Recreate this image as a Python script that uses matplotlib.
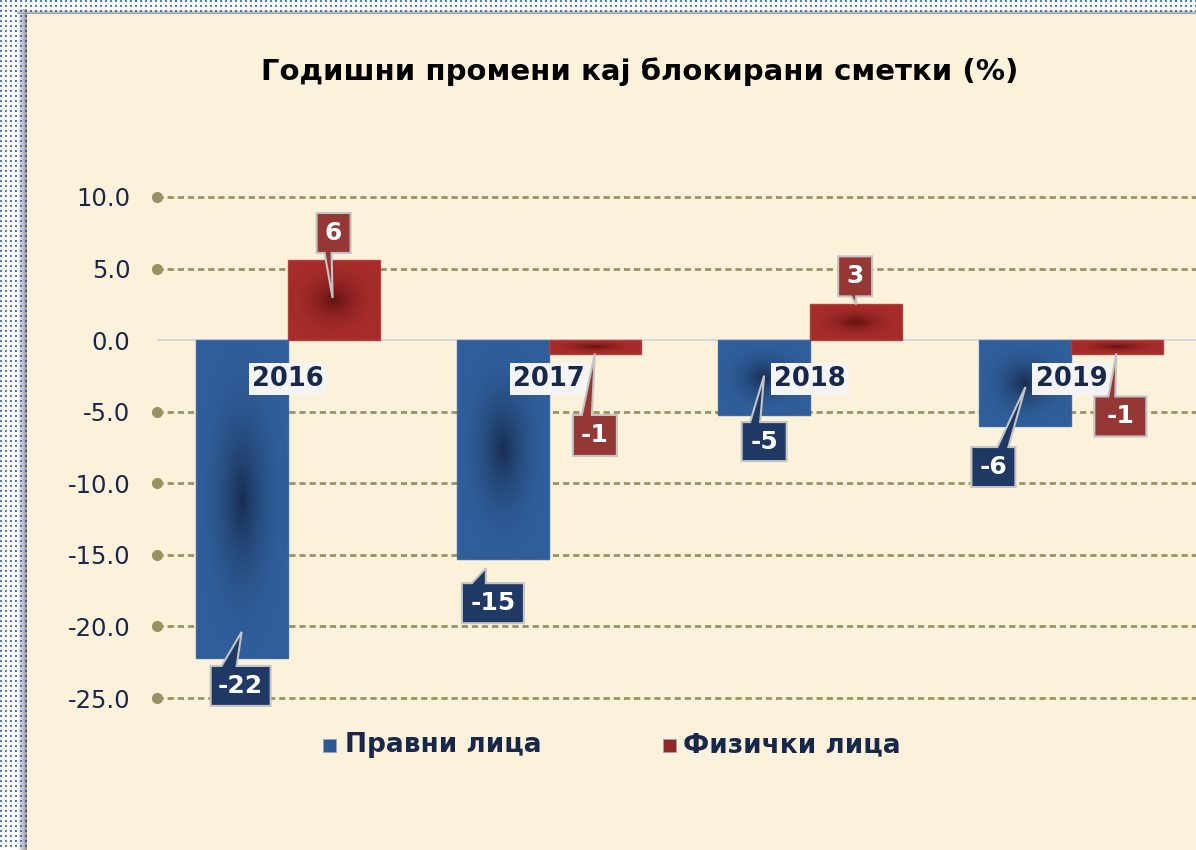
import numpy as np
import matplotlib
matplotlib.use('Agg')
import matplotlib.pyplot as plt
from matplotlib.patches import Polygon, Rectangle
from matplotlib.transforms import IdentityTransform

# data
years = ['2016', '2017', '2018', '2019']
legal = [-22.2, -15.3, -5.2, -6.0]       # Правни лица
personal = [5.6, -1.0, 2.5, -1.0]        # Физички лица
yticks = [10, 5, 0, -5, -10, -15, -20, -25]
title = 'Годишни промени кај блокирани сметки (%)'
names = ['Правни лица', 'Физички лица']

W, H, DPI = 1196, 850, 100
navy = '#17284A'
grid_c = '#9A9260'
blue_edge, blue_mid = np.array([47, 94, 154]) / 255, np.array([24, 45, 80]) / 255
red_edge, red_mid = np.array([166, 44, 42]) / 255, np.array([98, 18, 18]) / 255

plt.rcParams['font.family'] = ['DejaVu Sans']
plt.rcParams['lines.scale_dashes'] = False

fig = plt.figure(figsize=(W / DPI, H / DPI), dpi=DPI)

# parchment background with dotted frame on top and left
bg = np.ones((H, W, 3))
bg[:] = np.array([252, 242, 220]) / 255
yy, xx = np.mgrid[0:H, 0:W]
frame = (xx < 27) | (yy < 14)
bg[frame] = 1.0
shade = np.zeros((H, W))
lb = (xx < 27) & (yy >= 9)
shade[lb] = np.clip((xx[lb] - 17) / 10, 0, 1)
tb = (yy < 14) & (xx >= 17)
shade[tb] = np.maximum(shade[tb], np.clip((yy[tb] - 9) / 5, 0, 1))
bg[frame] *= (1 - 0.45 * shade[frame])[:, None]
dots = frame & (xx % 5 < 2) & (yy % 5 < 2)
bg[dots] = np.array([80, 122, 200]) / 255 * (1 - 0.3 * shade[dots])[:, None]
fig.figimage(bg, xo=0, yo=0, origin='upper', zorder=0)

# axes placed so that 10 -> y=197px and -25 -> y=698px
k = (698 - 197) / 35
top_px, bot_px = 197 - 2 * k, 698 + 2 * k
ax = fig.add_axes([157 / W, (H - bot_px) / H, 1045 / W, (bot_px - top_px) / H])
ax.set_zorder(2)
ax.patch.set_visible(False)
for s in ax.spines.values():
    s.set_visible(False)

for v in yticks:
    if v == 0:
        ax.axhline(0, color='#D3D8DF', lw=1.4, zorder=1)
        continue
    ax.axhline(v, color=grid_c, lw=2, dashes=(4.5, 2.8), zorder=1)
    ax.plot(-0.5, v, 'o', ms=7, color=grid_c, clip_on=False, zorder=1)

x = np.arange(len(years))
w = 0.352
bars1 = ax.bar(x - w / 2, legal, w, color='none', edgecolor='#3A69A6', lw=1, zorder=3)
bars2 = ax.bar(x + w / 2, personal, w, color='none', edgecolor='#B0403C', lw=1, zorder=3)


def gradient_fill(rect, edge, mid):
    x0, y0 = rect.get_x(), rect.get_y()
    rw, rh = rect.get_width(), rect.get_height()
    u = np.linspace(-1, 1, 121)
    U, V = np.meshgrid(u, u)
    r = np.clip(np.sqrt(U ** 2 + V ** 2), 0, 1)
    t = (1 - r) ** 2
    img = edge[None, None, :] * (1 - t[..., None]) + mid[None, None, :] * t[..., None]
    im = ax.imshow(img, extent=(x0, x0 + rw, y0, y0 + rh), aspect='auto',
                   interpolation='bilinear', zorder=2)
    im.set_clip_path(rect)


for rect in bars1:
    gradient_fill(rect, blue_edge, blue_mid)
for rect in bars2:
    gradient_fill(rect, red_edge, red_mid)

ax.set_xlim(-0.5, 3.5)
ax.set_ylim(-27, 12)
ax.set_xticks([])
ax.set_yticks(yticks)
ax.set_yticklabels([f'{v:.1f}' for v in yticks])
ax.tick_params(axis='y', length=0, pad=19, labelsize=17.5, labelcolor=navy)

# year labels near the zero line
for i, yr in enumerate(years):
    ax.text(i, -2.69, yr, ha='center', va='center', fontsize=18.5, fontweight='bold',
            color=navy, zorder=6,
            bbox=dict(boxstyle='square,pad=0.12', fc='#F4F4F4', ec='none'))


def fmt(v):
    return f'{int(np.sign(v) * np.floor(abs(v) + 0.5))}'


# callout offsets in pixels from the bar end: box (dx, dy, w, h), tip (dx, dy), pointer base, side
blue_call = [((-1, 28, 60, 40), (0, -26), (-19, -4), 'top'),
             ((-10, 44, 62, 40), (-17, 9), (-21, -7), 'top'),
             ((0, 27, 45, 39), (0, -39), (-14, -4), 'top'),
             ((-32, 41, 44, 40), (0, -39), (4, 15), 'top')]
red_call = [((0, -27, 34, 40), (-1, 38), (-9, -2), 'bottom'),
            ((0, 81, 44, 41), (0, -1), (-13, -3), 'top'),
            ((-1, -28, 34, 40), (0, 0), (-4, 1), 'bottom'),
            ((3, 62, 52, 40), (-1, -1), (-12, -5), 'top')]


def callout(xd, yd, text, fc, spec):
    box, tip, base, side = spec
    bx, by = ax.transData.transform((xd, yd))
    cx, cy = bx + box[0], by - box[1]
    hw, hh = box[2] / 2, box[3] / 2
    tx, ty = bx + tip[0], by - tip[1]
    l, r, t, b = cx - hw, cx + hw, cy + hh, cy - hh
    b0, b1 = cx + base[0], cx + base[1]
    if side == 'top':
        verts = [(l, b), (r, b), (r, t), (b1, t), (tx, ty), (b0, t), (l, t)]
    else:
        verts = [(l, t), (r, t), (r, b), (b1, b), (tx, ty), (b0, b), (l, b)]
    fig.add_artist(Polygon(verts, closed=True, transform=IdentityTransform(), fc=fc,
                           ec='#C4C4C4', lw=1.5, zorder=7))
    fig.text(cx / W, cy / H, text, ha='center', va='center', fontsize=18,
             fontweight='bold', color='white', zorder=8)


for i in range(len(years)):
    callout(i - w / 2, legal[i], fmt(legal[i]), '#1F3864', blue_call[i])
    callout(i + w / 2, personal[i], fmt(personal[i]), '#953735', red_call[i])

fig.text(640 / W, 1 - 72 / H, title, ha='center', va='center', fontsize=21,
         fontweight='bold', color='black')

# legend
for (sx, tx), name, c in zip([(323, 345), (663, 683)], names, ['#2B5797', '#8E2A28']):
    fig.add_artist(Rectangle((sx / W, 1 - 752 / H), 13 / W, 13 / H, transform=fig.transFigure,
                             fc=c, ec='#9AA5B5', lw=0.6))
    fig.text(tx / W, 1 - 745 / H, name, ha='left', va='center', fontsize=19,
             fontweight='bold', color=navy)

fig.savefig('out.png', dpi=DPI)
